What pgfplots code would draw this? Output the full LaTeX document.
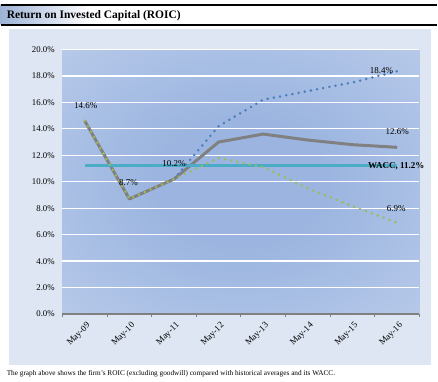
\documentclass[border=0pt]{standalone}
\usepackage{pgfplots}
\pgfplotsset{compat=1.18}
\usepackage{fontspec}
\setmainfont{Liberation Serif}
\definecolor{panel}{HTML}{DDE6F2}
\definecolor{plotin}{HTML}{9BB5E0}
\definecolor{plotmid}{HTML}{B9CBEA}
\definecolor{plotout}{HTML}{E4EAF6}
\definecolor{roic}{HTML}{808080}
\definecolor{blued}{HTML}{4A7EBB}
\definecolor{greend}{HTML}{9BBB59}
\definecolor{wacc}{HTML}{4BACC6}
\definecolor{titleb}{HTML}{9DB3D6}
\pgfdeclareradialshading{plotshade}{\pgfpoint{0bp}{0bp}}{color(0bp)=(plotin); color(12bp)=(plotin); color(38bp)=(plotmid); color(58bp)=(plotout); color(72bp)=(plotout)}
\begin{document}
\begin{tikzpicture}[x=1pt,y=1pt]
\path (0,0) rectangle (438,383);
% title bar
\shade[left color=titleb, right color=white] (0,358) rectangle (90,378);
\draw[line width=1.2pt] (0,378) -- (438,378);
\draw[line width=1.2pt] (0,358) -- (438,358);
\node[anchor=west, font=\bfseries\fontsize{11.5}{13}\selectfont, inner sep=0pt] at (6,367.5) {Return on Invested Capital (ROIC)};
% panel
\fill[panel] (8,17) rectangle (432,354);
% caption
\node[anchor=west, font=\fontsize{7.3}{8}\selectfont, inner sep=0pt] at (6,8) {The graph above shows the firm's ROIC (excluding goodwill) compared with historical averages and its WACC.};
\begin{axis}[
  at={(62pt,68pt)}, anchor=south west,
  width=358pt, height=265.5pt, scale only axis,
  xmin=-0.5, xmax=7.5, ymin=0, ymax=20,
  axis background/.style={shading=plotshade},
  separate axis lines,
  axis x line*=bottom, axis y line*=left,
  x axis line style={draw=roic, line width=1.5pt, -},
  y axis line style={draw=none},
  xtick={0,...,7},
  xticklabels={May-09,May-10,May-11,May-12,May-13,May-14,May-15,May-16},
  minor xtick={-0.5,0.5,...,7.5},
  major x tick style={draw=none},
  minor x tick style={draw=roic, line width=1pt},
  tick align=outside, minor tick length=3pt,
  xticklabel style={rotate=45, anchor=north east, font=\fontsize{9}{10}\selectfont, inner sep=1pt, yshift=-2pt},
  ytick={0,2,...,20},
  ytick style={draw=none},
  ymajorgrids, grid style={white, line width=1.4pt},
  yticklabel={\pgfmathprintnumber[fixed,fixed zerofill,precision=1]{\tick}\%},
  yticklabel style={font=\fontsize{8.8}{9}\selectfont},
  /pgf/number format/assume math mode=true,
  clip=false,
]
\addplot[roic, line width=3pt, line join=round] coordinates {(0,14.6) (1,8.7) (2,10.2) (3,13.0) (4,13.6) (5,13.15) (6,12.8) (7,12.6)};
\addplot[wacc, line width=3pt] coordinates {(0,11.2) (7,11.2)};
\addplot[blued, line width=2.8pt, line cap=round, dash pattern=on 0pt off 6.3pt] coordinates {(2,10.2) (3,14.2) (4,16.2) (5,16.85) (6,17.5) (7,18.35)};
\addplot[greend, line width=2.8pt, line cap=round, dash pattern=on 0pt off 6.3pt] coordinates {(0,14.6) (1,8.7) (2,10.2) (3,11.8) (4,11.1) (5,9.5) (6,8.15) (7,6.9)};
\node[font=\fontsize{9}{10}\selectfont, inner sep=0pt] at (axis cs:0.02,15.75) {14.6\%};
\node[font=\fontsize{9}{10}\selectfont, inner sep=0pt] at (axis cs:0.98,9.9) {8.7\%};
\node[font=\fontsize{9}{10}\selectfont, inner sep=0pt] at (axis cs:2.0,11.35) {10.2\%};
\node[font=\fontsize{9}{10}\selectfont, inner sep=0pt] at (axis cs:6.65,18.4) {18.4\%};
\node[font=\fontsize{9}{10}\selectfont, inner sep=0pt] at (axis cs:7,13.8) {12.6\%};
\node[font=\fontsize{9}{10}\selectfont, inner sep=0pt] at (axis cs:6.98,8.0) {6.9\%};
\node[font=\bfseries\fontsize{9}{10}\selectfont, inner sep=0pt] at (axis cs:6.98,11.2) {WACC, 11.2\%};
\end{axis}
\end{tikzpicture}
\end{document}
